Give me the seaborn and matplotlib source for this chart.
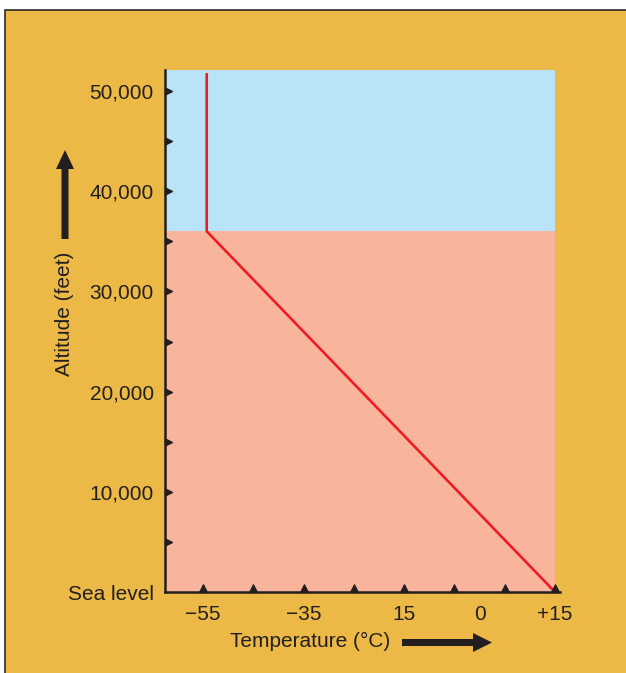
import matplotlib
matplotlib.use("Agg")
import matplotlib.pyplot as plt
import seaborn as sns
import pandas as pd
from matplotlib.patches import Rectangle, FancyArrow
from matplotlib.transforms import IdentityTransform

# ---- data ----
temps = [15, -54.3, -54.3]          # °C
alts = [0, 36000, 51700]            # feet
tropopause = 36000
y_ticks = [0, 10000, 20000, 30000, 40000, 50000]
y_labels = ["Sea level", "10,000", "20,000", "30,000", "40,000", "50,000"]
y_minor = [5000, 10000, 15000, 20000, 25000, 30000, 35000, 40000, 45000, 50000]
x_marks = [-55, -45, -35, -25, -15, -5, 5, 15]
x_ticks = [-55, -35, -15, 0, 15]
x_labels = ["\u221255", "\u221235", "15", "0", "+15"]

ORANGE = "#ECB947"
BLUE = "#B9E4F8"
SALMON = "#F8B59C"
RED = "#EE1C25"
DARK = "#231F20"

sns.set_theme(style="white")
plt.rcParams["font.family"] = ["Liberation Sans", "DejaVu Sans"]

W, H = 626, 673
fig = plt.figure(figsize=(W / 100, H / 100), dpi=100, facecolor="white")

# outer orange panel with border
fig.patches.append(Rectangle((5, -20), 700, 673 - 10 + 20, transform=IdentityTransform(),
                             facecolor=ORANGE, edgecolor="#2b2b2b", linewidth=1.2, zorder=-10))

ax = fig.add_axes([165 / W, (H - 592) / H, 390 / W, 522 / H])
ax.set_zorder(1)
ax.set_facecolor("none")
xmin, xmax = -62.6, 15
ymax = 52100
ax.set_xlim(xmin, xmax)
ax.set_ylim(0, ymax)

ax.axhspan(0, tropopause, color=SALMON, lw=0, zorder=0)
ax.axhspan(tropopause, ymax, color=BLUE, lw=0, zorder=0)

df = pd.DataFrame({"temp": temps, "alt": alts})
sns.lineplot(data=df, x="temp", y="alt", sort=False, estimator=None, color=RED,
             linewidth=1.9, ax=ax, zorder=3)

for s in ["top", "right"]:
    ax.spines[s].set_visible(False)
for s in ["left", "bottom"]:
    ax.spines[s].set_color(DARK)
    ax.spines[s].set_linewidth(1.8)
    ax.spines[s].set_zorder(5)
ax.spines["bottom"].set_bounds(xmin, 16)

ax.set_xticks(x_ticks)
ax.set_xticklabels(x_labels)
ax.set_yticks(y_ticks)
ax.set_yticklabels(y_labels)
ax.tick_params(axis="both", length=0, labelsize=15, labelcolor=DARK)
ax.tick_params(axis="x", pad=9)
ax.tick_params(axis="y", pad=8)
ax.set_xlabel("")
ax.set_ylabel("")

# triangle tick marks
up = [(-1, 0), (1, 0), (0, 2), (-1, 0)]
right = [(0, -1), (0, 1), (2, 0), (0, -1)]
ax.plot(x_marks, [0] * len(x_marks), ls="none", marker=up, markersize=11, color=DARK,
        clip_on=False, zorder=6, transform=ax.get_xaxis_transform())
ax.plot([0] * len(y_minor), y_minor, ls="none", marker=right, markersize=10, color=DARK,
        clip_on=False, zorder=6, transform=ax.get_yaxis_transform())

# axis titles with arrows
fig.text(65 / W, (H - 314) / H, "Altitude (feet)", rotation=90, ha="center", va="center",
         fontsize=15, color=DARK)
fig.text(310 / W, (H - 641) / H, "Temperature (\u00b0C)", ha="center", va="center",
         fontsize=15, color=DARK)
fig.patches.append(FancyArrow(65, H - 239, 0, 89, width=7, head_width=18, head_length=19,
                              length_includes_head=True, transform=IdentityTransform(),
                              color=DARK, lw=0))
fig.patches.append(FancyArrow(402, H - 642.5, 90, 0, width=7, head_width=19, head_length=19,
                              length_includes_head=True, transform=IdentityTransform(),
                              color=DARK, lw=0))

fig.savefig("out.png", dpi=100, facecolor="white")
